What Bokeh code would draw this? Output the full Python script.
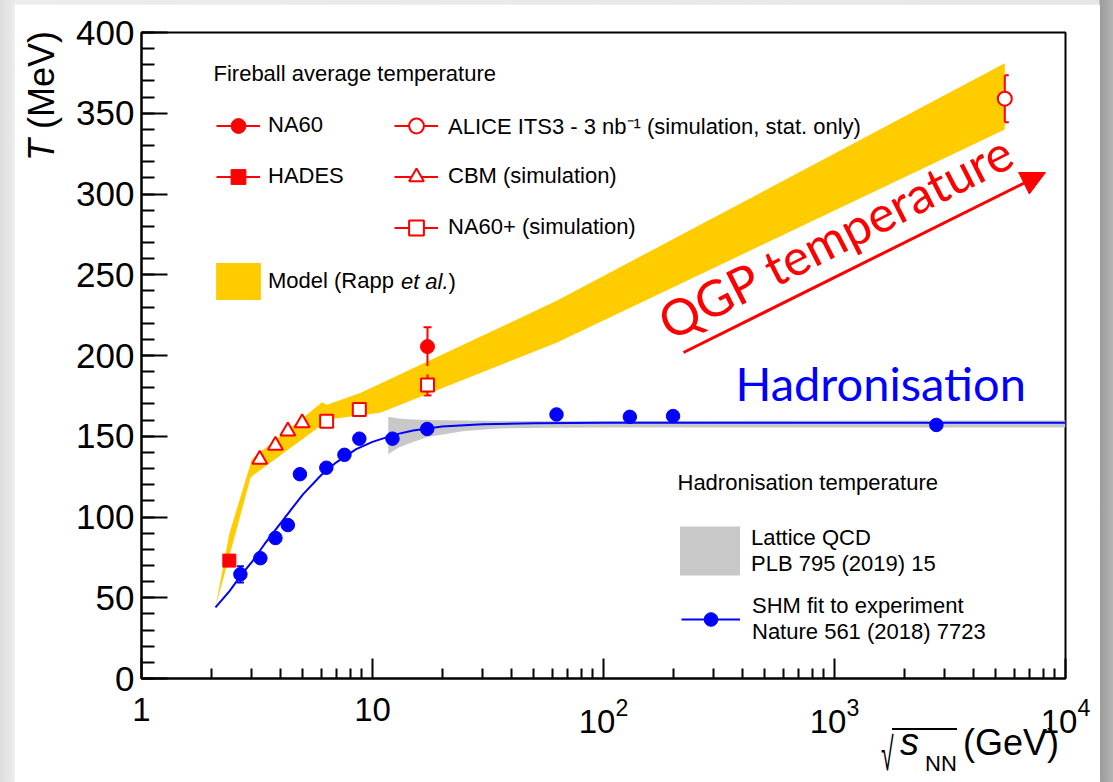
import math
from bokeh.plotting import figure
from bokeh.models import (Range1d, ColumnDataSource, Label, Arrow, NormalHead, TeeHead, Whisker,
                          Legend, LegendItem, LogTickFormatter, FixedTicker, Div)
from bokeh.layouts import column
from bokeh.embed import file_html
from bokeh.resources import INLINE

# ---------------- data ----------------
# SHM fit to experiment (blue points)
shm_x = [2.68, 3.27, 3.80, 4.30, 4.85, 6.31, 7.56, 8.77, 12.2, 17.25, 62.6, 130, 200, 2760]
shm_T = [64.5, 74.5, 87, 95, 126.5, 130.5, 138.5, 148.5, 148.5, 154.5, 163.5, 162, 162.5, 157]
shm_err = [5, 0, 0, 0, 0, 0, 0, 0, 0, 0, 0, 0, 0, 0]
# SHM curve
curve_x = [2.09, 2.4, 2.7, 3.0, 3.4, 3.8, 4.3, 5.0, 6.0, 7.0, 8.5, 10, 12.5, 15, 20, 30, 50, 100, 300, 1000, 10000]
curve_T = [44, 54, 64, 72, 83, 92, 102, 114, 126, 134, 142, 146.5, 151, 153.5, 156, 157.5, 158, 158.3, 158.4, 158.4, 158.4]
# Lattice QCD band
lqcd_x = [11.7, 13, 15, 17.3, 25, 35, 60, 100, 10000]
lqcd_up = [162, 161, 160.3, 160, 159.7, 159.5, 159.5, 159.5, 159.8]
lqcd_lo = [139, 143, 146.5, 149.5, 153.2, 154.8, 155.3, 155.4, 155.4]
# Model (Rapp et al.) band
model_up_x = [2.09, 2.40, 3.01, 6.05, 6.35, 8.9, 63, 5460]
model_up_T = [44, 89.6, 136, 171, 169.5, 177, 234, 381]
model_lo_x = [2.09, 2.97, 5.85, 6.8, 10.8, 63, 5460]
model_lo_T = [44, 124.6, 155.6, 160.8, 164.5, 208, 340]
# Fireball measurements / simulations
na60_x = [17.3]; na60_T = [205.5]; na60_err = [12]
hades_x = [2.40]; hades_T = [73]; hades_err = [0]
cbm_x = [3.25, 3.80, 4.30, 4.96]; cbm_T = [135.6, 144.3, 153.1, 158.3]; cbm_err = [0, 0, 0, 0]
na60p_x = [6.33, 8.77, 17.3]; na60p_T = [159.3, 166.6, 181.8]; na60p_err = [0, 0, 6.5]
alice_x = [5460]; alice_T = [359]; alice_err = [14.5]

x_major = [1, 10, 100, 1000, 10000]
y_major = [0, 50, 100, 150, 200, 250, 300, 350, 400]

# ---------------- style ----------------
FONT = "Liberation Sans"
RED = "#ff0000"
BLUE = "#0000ff"
YELLOW = "#ffcc00"
GREY = "#c8c8c8"
LEG = "22px"

p = figure(width=1086, height=778, x_axis_type="log",
           x_range=Range1d(1, 1e4), y_range=Range1d(0, 400),
           output_backend="svg", toolbar_location=None,
           min_border_left=127, min_border_right=35, min_border_top=28, min_border_bottom=104)
p.margin = (4, 13, 0, 14)
p.background_fill_color = "white"
p.border_fill_color = "white"
p.outline_line_color = "black"
p.outline_line_width = 2
p.xgrid.visible = False
p.ygrid.visible = False

# axes
p.xaxis.ticker = FixedTicker(ticks=x_major,
                             minor_ticks=[m * 10 ** d for d in range(4) for m in range(2, 10)])
p.yaxis.ticker = FixedTicker(ticks=y_major, minor_ticks=list(range(0, 401, 10)))
p.xaxis.formatter = LogTickFormatter(min_exponent=1)
p.xaxis.major_label_overrides = {1: "1", 10: "10"}
for ax in (p.xaxis[0], p.yaxis[0]):
    ax.axis_line_width = 2
    ax.axis_line_color = "black"
    ax.major_tick_out = 0
    ax.minor_tick_out = 0
    ax.major_tick_line_width = 2
    ax.minor_tick_line_width = 2
    ax.major_label_text_font = FONT
    ax.major_label_text_color = "black"
p.xaxis.major_tick_in = 20
p.xaxis.minor_tick_in = 10
p.yaxis.major_tick_in = 26
p.yaxis.minor_tick_in = 13
p.xaxis.major_label_text_font_size = "33px"
p.yaxis.major_label_text_font_size = "35px"
p.xaxis.major_label_standoff = 19
p.yaxis.major_label_standoff = 7

# ---------------- bands ----------------
model_r = p.patch(model_up_x + model_lo_x[::-1], model_up_T + model_lo_T[::-1],
                  fill_color=YELLOW, line_color=None)
lqcd_r = p.patch(lqcd_x + lqcd_x[::-1], lqcd_up + lqcd_lo[::-1],
                 fill_color=GREY, line_color=None)

# ---------------- SHM ----------------
curve_r = p.line(curve_x, curve_T, line_color=BLUE, line_width=2)
shm_src = ColumnDataSource(dict(x=shm_x, y=shm_T))
p.add_layout(Whisker(source=ColumnDataSource(dict(
    x=[x for x, e in zip(shm_x, shm_err) if e > 0],
    lo=[t - e for t, e in zip(shm_T, shm_err) if e > 0],
    hi=[t + e for t, e in zip(shm_T, shm_err) if e > 0])),
    base="x", lower="lo", upper="hi", line_color=BLUE, line_width=2,
    upper_head=TeeHead(size=7, line_color=BLUE, line_width=2),
    lower_head=TeeHead(size=7, line_color=BLUE, line_width=2)))
shm_r = p.scatter("x", "y", source=shm_src, marker="circle", size=13.5,
                  fill_color=BLUE, line_color=BLUE)


# ---------------- red series ----------------
def red_series(xs, ys, errs, marker, filled, size):
    src = ColumnDataSource(dict(x=xs, y=ys,
                                lo=[t - e for t, e in zip(ys, errs)],
                                hi=[t + e for t, e in zip(ys, errs)]))
    seg = p.segment(x0="x", y0="lo", x1="x", y1="hi", source=src,
                    line_color=RED, line_width=2)
    has = [i for i, e in enumerate(errs) if e > 0]
    if has:
        wsrc = ColumnDataSource(dict(x=[xs[i] for i in has],
                                     lo=[ys[i] - errs[i] for i in has],
                                     hi=[ys[i] + errs[i] for i in has]))
        p.add_layout(Whisker(source=wsrc, base="x", lower="lo", upper="hi",
                             line_alpha=0,
                             upper_head=TeeHead(size=8, line_color=RED, line_width=2),
                             lower_head=TeeHead(size=8, line_color=RED, line_width=2)))
    sc = p.scatter("x", "y", source=src, marker=marker, size=size,
                   fill_color=RED if filled else "white", line_color=RED,
                   line_width=1 if filled else 2)
    return [seg, sc]


na60_r = red_series(na60_x, na60_T, na60_err, "circle", True, 14)
hades_r = red_series(hades_x, hades_T, hades_err, "square", True, 13)
cbm_r = red_series(cbm_x, cbm_T, cbm_err, "triangle", False, 15)
na60p_r = red_series(na60p_x, na60p_T, na60p_err, "square", False, 13)
alice_r = red_series(alice_x, alice_T, alice_err, "circle", False, 14)


# ---------------- legends ----------------
def legend(items, x, y, gw, gh, spacing, standoff, lh=1.25):
    lg = Legend(items=items, location=(x, y), glyph_width=gw, glyph_height=gh,
                spacing=spacing, label_standoff=standoff, padding=0, margin=0,
                border_line_alpha=0, background_fill_alpha=0,
                label_text_font=FONT, label_text_font_size=LEG,
                label_text_color="black", label_text_line_height=lh)
    p.add_layout(lg)
    return lg


legend([LegendItem(label="NA60", renderers=na60_r),
        LegendItem(label="HADES", renderers=hades_r)],
       75, 483.5, 44, 37, 14, 8)
legend([LegendItem(label="ALICE ITS3 - 3 nb\u207b\u00b9 (simulation, stat. only)", renderers=alice_r),
        LegendItem(label="CBM (simulation)", renderers=cbm_r),
        LegendItem(label="NA60+ (simulation)", renderers=na60p_r)],
       253, 432.5, 44, 37, 14, 10)
legend([LegendItem(label="Model (Rapp", renderers=[model_r])],
       69, 374, 56, 46, 0, 2)
legend([LegendItem(label="Lattice QCD\nPLB 795 (2019) 15", renderers=[lqcd_r])],
       531, 97, 75, 61, 0, 4, 1.15)
legend([LegendItem(label="SHM fit to experiment\nNature 561 (2018) 7723", renderers=[curve_r, shm_r])],
       540, 33, 59, 34, 0, 12, 1.15)


# ---------------- texts inside the frame (screen units, frame relative) ----------------
def lab(text, x, y, size, color="black", font=FONT, style="normal", angle=0.0,
        align="left", baseline="alphabetic"):
    p.add_layout(Label(text=text, x=x, y=y, x_units="screen", y_units="screen",
                       text_font=font, text_font_size=size, text_color=color,
                       text_font_style=style, angle=angle, text_align=align,
                       text_baseline=baseline))


lab("et al.", 259.4, 397.3, LEG, style="italic", baseline="middle")
lab(")", 307.1, 397.3, LEG, baseline="middle")
lab("Fireball average temperature", 72, 605.4, LEG)
lab("Hadronisation temperature", 536, 196, LEG)
lab("Hadronisation", 594, 296, "47px", color=BLUE, font="Lato")
lab("QGP temperature", 520, 354, "50px", color=RED, font="Lato", angle=math.radians(27))
p.add_layout(Arrow(x_start=542, y_start=326, x_end=904, y_end=506,
                   start_units="screen", end_units="screen",
                   line_color=RED, line_width=3,
                   end=NormalHead(size=24, fill_color=RED, line_color=RED)))


# ---------------- axis titles (HTML overlay, page coordinates) ----------------
def span(text, left, top, size, extra=""):
    return ('<span style="position:absolute;left:%spx;top:%spx;font-family:\'Liberation Sans\';'
            'font-size:%spx;line-height:1;white-space:nowrap;color:black;%s">%s</span>'
            % (left, top, size, extra, text))


ytitle = span("<i>T</i> (MeV)", 23.5, 161, 36,
              "transform:rotate(-90deg);transform-origin:0 0;")
xtitle = (span("\u221a", 881, 731, 46, "transform:scaleX(0.5);transform-origin:0 0;")
          + '<div style="position:absolute;left:892px;top:728px;width:65px;height:0;'
            'border-top:2px solid black;"></div>'
          + span("<i>s</i>", 900, 723, 38)
          + span("NN", 925, 752.5, 22)
          + span("(GeV)", 963, 724.5, 36))

overlay = Div(text='<div style="position:relative;width:1113px;height:782px;">'
                   + ytitle + xtitle + '</div>',
              width=1113, height=782, margin=0,
              styles={"position": "absolute", "left": "0px", "top": "0px",
                      "pointer-events": "none"})

root = column(p, overlay, width=1113, height=782,
              styles={"background": "linear-gradient(to right, #dcdcdc 0px, #ececec 14px, "
                                    "#e6e6e6 1099px, #9c9c9c 1100px, #b4b4b4 1113px)",
                      "position": "relative"})

open("out.html", "w").write(file_html(root, INLINE))
